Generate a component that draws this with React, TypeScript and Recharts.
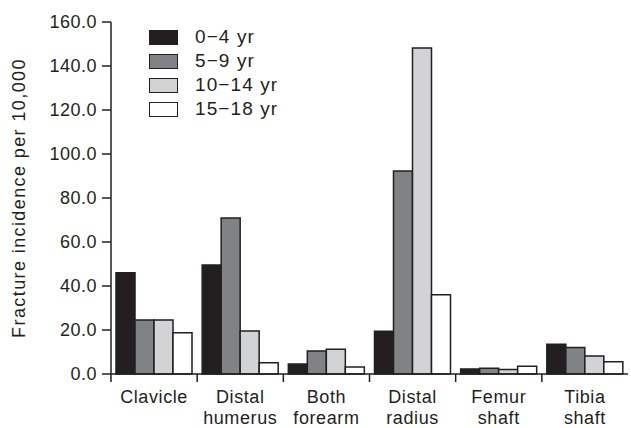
import { BarChart, Bar, XAxis, YAxis } from 'recharts'

const categories = ['Clavicle', 'Distal\nhumerus', 'Both\nforearm', 'Distal\nradius', 'Femur\nshaft', 'Tibia\nshaft']
const age0to4 = [46.0, 49.5, 4.5, 19.4, 2.3, 13.5]
const age5to9 = [24.5, 70.9, 10.5, 92.3, 2.6, 12.0]
const age10to14 = [24.5, 19.5, 11.2, 148.2, 2.1, 8.2]
const age15to18 = [18.8, 5.1, 3.2, 36.0, 3.5, 5.6]
const yTicks = [0, 20, 40, 60, 80, 100, 120, 140, 160]

const SERIES = [
  { key: 'a', name: '0\u22124 yr', values: age0to4, fill: '#231f20' },
  { key: 'b', name: '5\u22129 yr', values: age5to9, fill: '#808285' },
  { key: 'c', name: '10\u221214 yr', values: age10to14, fill: '#d1d3d4' },
  { key: 'd', name: '15\u221218 yr', values: age15to18, fill: '#ffffff' },
]

const data = categories.map((c, i) => {
  const row: any = { cat: c }
  SERIES.forEach(s => { row[s.key] = s.values[i] })
  return row
})

const INK = '#231f20'
const FONT = '"Liberation Sans", Arial, sans-serif'
const W = 631
const H = 428
const LEFT = 111
const RIGHT = 3
const BAND = (W - LEFT - RIGHT) / categories.length

function CatTick({ x, y, payload }: any) {
  const lines = String(payload.value).split('\n')
  const bx = x - BAND / 2
  return (
    <g>
      <line x1={bx} y1={y} x2={bx} y2={y + 8} stroke={INK} strokeWidth={1.5} />
      <text x={x} y={y} textAnchor="middle" fontSize={18} letterSpacing={0.6} fill={INK} fontFamily={FONT}>
        {lines.map((l, i) => (
          <tspan key={i} x={x} dy={i === 0 ? 29 : 21}>{l}</tspan>
        ))}
      </text>
    </g>
  )
}

// legend drawn over the plot, top-left, like the original figure
function LegendBox() {
  return (
    <div style={{ position: 'absolute', left: 149, top: 25, fontFamily: FONT, fontSize: 19, color: INK }}>
      {SERIES.map(s => (
        <div key={s.key} style={{ display: 'flex', alignItems: 'center', height: 24 }}>
          <span style={{ display: 'inline-block', width: 27, height: 13, background: s.fill, border: `1.5px solid ${INK}`, marginRight: 17 }} />
          <span style={{ letterSpacing: 1.1 }}>{s.name}</span>
        </div>
      ))}
    </div>
  )
}

export default function App() {
  return (
    <div style={{ position: 'absolute', left: 0, top: 0, width: W, height: H, background: '#fff' }}>
      <BarChart
        width={W}
        height={H}
        data={data}
        margin={{ top: 22, right: RIGHT, bottom: 0, left: 0 }}
        barCategoryGap={5}
        barGap={0}
      >
        <XAxis
          dataKey="cat"
          interval={0}
          height={54}
          tick={<CatTick />}
          tickLine={false}
          tickSize={0}
          tickMargin={0}
          axisLine={{ stroke: INK, strokeWidth: 1.5 }}
        />
        <YAxis
          width={LEFT}
          domain={[0, 160]}
          ticks={yTicks}
          interval={0}
          tickFormatter={(v: number) => v.toFixed(1)}
          tick={{ fontSize: 18, fill: INK, fontFamily: FONT, letterSpacing: 0.5 }}
          tickSize={9}
          tickMargin={5}
          tickLine={{ stroke: INK, strokeWidth: 1.5 }}
          axisLine={{ stroke: INK, strokeWidth: 1.5 }}
          label={{
            value: 'Fracture incidence per 10,000',
            angle: -90,
            position: 'insideLeft',
            offset: 19,
            style: { textAnchor: 'middle', fontSize: 18, letterSpacing: 1.4, fill: INK, fontFamily: FONT },
          }}
        />
        {SERIES.map(s => (
          <Bar
            key={s.key}
            dataKey={s.key}
            name={s.name}
            fill={s.fill}
            stroke={INK}
            strokeWidth={1.5}
            isAnimationActive={false}
          />
        ))}
      </BarChart>
      <LegendBox />
    </div>
  )
}
